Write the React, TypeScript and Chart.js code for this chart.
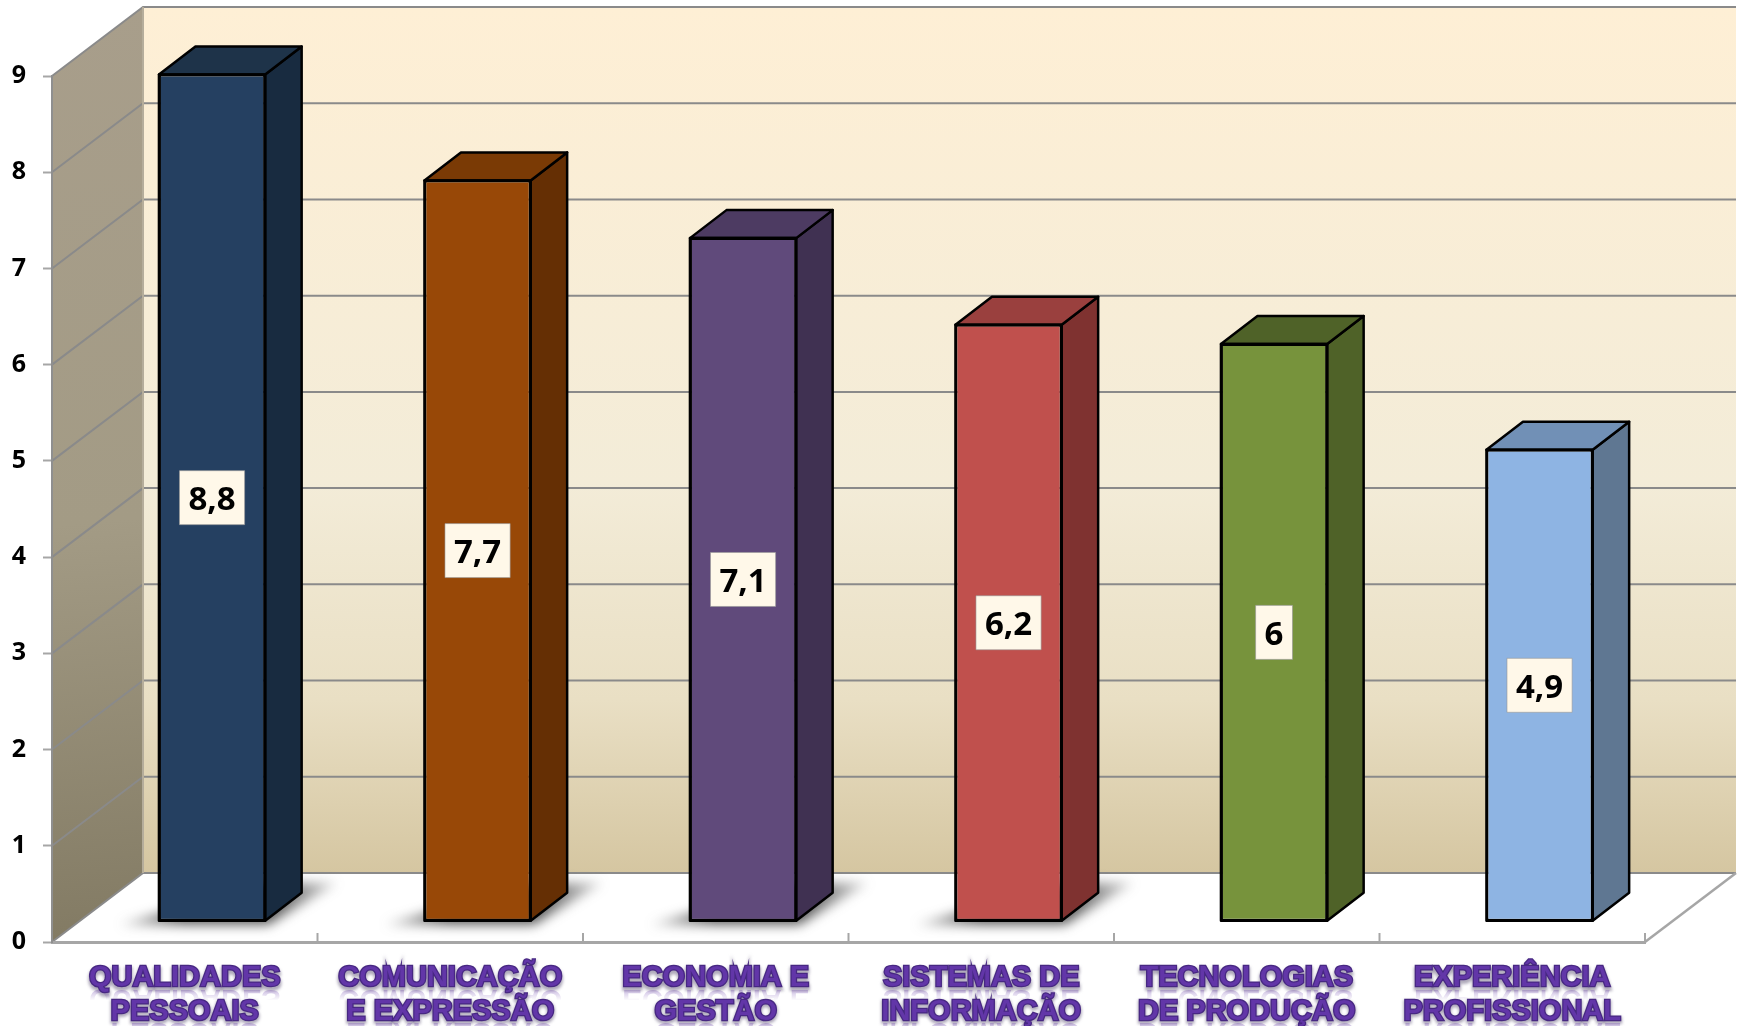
import React, { useEffect, useRef } from "react";
import { Chart, registerables } from "chart.js";

Chart.register(...registerables);

const categories = [
  ["QUALIDADES", "PESSOAIS"],
  ["COMUNICAÇÃO", "E EXPRESSÃO"],
  ["ECONOMIA E", "GESTÃO"],
  ["SISTEMAS DE", "INFORMAÇÃO"],
  ["TECNOLOGIAS", "DE PRODUÇÃO"],
  ["EXPERIÊNCIA", "PROFISSIONAL"],
];
const values = [8.8, 7.7, 7.1, 6.2, 6, 4.9];
const yTicks = [0, 1, 2, 3, 4, 5, 6, 7, 8, 9];
const frontColors = ["#254061", "#984807", "#604a7b", "#c0504d", "#77933c", "#8eb4e3"];
const topColors = ["#1e3349", "#7a3a05", "#4d3b62", "#9a403e", "#4f6228", "#7190b6"];
const sideColors = ["#182b40", "#652f04", "#403152", "#7f3230", "#4f6228", "#5f7792"];
const castsShadow = [true, true, true, true, false, false];

const WALL_DX = 91;
const WALL_DY = 69;
const BAR_DX = 27.3;
const BAR_DY = 20.7;
const DEPTH_DX = 36.5;
const DEPTH_DY = 28;
const GRID = "#8a8a8a";

const scene3d = {
  id: "scene3d",
  beforeDraw(chart: any) {
    const { ctx, chartArea: a, scales } = chart;
    const y = scales.y;
    const x = scales.x;
    const y0 = y.getPixelForValue(0);
    const y9 = y.getPixelForValue(9);
    ctx.save();
    ctx.fillStyle = "#ffffff";
    ctx.fillRect(0, 0, chart.width, chart.height);

    // back wall
    const back = ctx.createLinearGradient(0, y9 - WALL_DY, 0, y0 - WALL_DY);
    back.addColorStop(0, "#feefd5");
    back.addColorStop(0.55, "#f3ecd8");
    back.addColorStop(0.8, "#e9dfc4");
    back.addColorStop(1, "#d5c6a1");
    ctx.fillStyle = back;
    ctx.fillRect(a.left + WALL_DX, y9 - WALL_DY, a.right - a.left, y0 - y9);

    // left wall
    const side = ctx.createLinearGradient(a.left, y9 - WALL_DY, a.left + WALL_DX, y0);
    side.addColorStop(0, "#a89e8b");
    side.addColorStop(0.55, "#a39b85");
    side.addColorStop(1, "#827a63");
    ctx.fillStyle = side;
    ctx.beginPath();
    ctx.moveTo(a.left, y0);
    ctx.lineTo(a.left, y9);
    ctx.lineTo(a.left + WALL_DX, y9 - WALL_DY);
    ctx.lineTo(a.left + WALL_DX, y0 - WALL_DY);
    ctx.closePath();
    ctx.fill();

    // grid lines on walls
    ctx.strokeStyle = GRID;
    ctx.lineWidth = 2;
    for (const v of yTicks) {
      const py = y.getPixelForValue(v);
      ctx.beginPath();
      ctx.moveTo(a.left, py);
      ctx.lineTo(a.left + WALL_DX, py - WALL_DY);
      ctx.lineTo(a.right + WALL_DX, py - WALL_DY);
      ctx.stroke();
    }
    ctx.beginPath();
    ctx.moveTo(a.left + WALL_DX, y9 - WALL_DY);
    ctx.lineTo(a.left + WALL_DX, y0 - WALL_DY);
    ctx.strokeStyle = "#b5ad9b";
    ctx.stroke();

    // floor edge
    ctx.strokeStyle = "#a6a6a6";
    ctx.lineWidth = 2.5;
    ctx.beginPath();
    ctx.moveTo(a.right, y0);
    ctx.lineTo(a.right + WALL_DX, y0 - WALL_DY);
    ctx.stroke();

    // category separators on the floor
    const half = (x.getPixelForValue(1) - x.getPixelForValue(0)) / 2;
    ctx.lineWidth = 2;
    for (let i = 0; i < categories.length; i++) {
      const px = x.getPixelForValue(i) + half;
      ctx.beginPath();
      ctx.moveTo(px, y0);
      ctx.lineTo(px, y0 - 9);
      ctx.stroke();
    }

    // soft halo and reflections of the category labels
    ctx.font = "bold 29px 'Liberation Sans'";
    ctx.textAlign = "center";
    ctx.textBaseline = "alphabetic";
    categories.forEach((lines, i) => {
      lines.forEach((line, j) => {
        const base = 988.5 + 33.5 * j;
        const px = x.getPixelForValue(i);
        ctx.save();
        ctx.filter = "blur(1.5px)";
        ctx.strokeStyle = "rgba(110,100,130,0.55)";
        ctx.lineWidth = 4;
        ctx.strokeText(line, px, base);
        ctx.restore();

        ctx.save();
        ctx.beginPath();
        ctx.rect(0, base + 1, chart.width, 11);
        ctx.clip();
        ctx.translate(px, base + 1);
        ctx.scale(1, -1);
        const fade = ctx.createLinearGradient(0, 0, 0, -11);
        fade.addColorStop(0, "rgba(95,50,165,0.32)");
        fade.addColorStop(1, "rgba(95,50,165,0)");
        ctx.fillStyle = fade;
        ctx.fillText(line, 0, 0);
        ctx.restore();
      });
    });
    ctx.restore();
  },
  beforeDatasetsDraw(chart: any) {
    const { ctx } = chart;
    const meta = chart.getDatasetMeta(0);
    ctx.save();
    ctx.filter = "blur(6px)";
    meta.data.forEach((bar: any, i: number) => {
      if (!castsShadow[i]) return;
      const p = bar.getProps(["x", "y", "base", "width"], true);
      const r = p.x + p.width / 2 + BAR_DX;
      const l = p.x - p.width / 2 + BAR_DX;
      const b = p.base - BAR_DY;
      const g = ctx.createLinearGradient(l - 40, 0, r + 72, 0);
      g.addColorStop(0, "rgba(70,70,70,0.25)");
      g.addColorStop(0.3, "rgba(60,60,60,0.85)");
      g.addColorStop(0.7, "rgba(60,60,60,0.85)");
      g.addColorStop(1, "rgba(70,70,70,0.2)");
      ctx.fillStyle = g;
      ctx.beginPath();
      ctx.moveTo(l - 40, b + 4);
      ctx.lineTo(r + 3, b + 4);
      ctx.lineTo(r + 72, b - 38);
      ctx.lineTo(r, b - 38);
      ctx.closePath();
      ctx.fill();
    });
    ctx.restore();
  },
  beforeDatasetDraw(chart: any) {
    chart.ctx.save();
    chart.ctx.translate(BAR_DX, -BAR_DY);
  },
  afterDatasetDraw(chart: any) {
    chart.ctx.restore();
  },
  afterDatasetsDraw(chart: any) {
    const { ctx } = chart;
    const meta = chart.getDatasetMeta(0);
    ctx.save();
    ctx.lineJoin = "round";
    ctx.lineWidth = 2.5;
    ctx.strokeStyle = "#000000";
    meta.data.forEach((bar: any, i: number) => {
      const p = bar.getProps(["x", "y", "base", "width"], true);
      const l = p.x - p.width / 2 + BAR_DX;
      const r = p.x + p.width / 2 + BAR_DX;
      const t = p.y - BAR_DY;
      const b = p.base - BAR_DY;
      ctx.fillStyle = sideColors[i];
      ctx.beginPath();
      ctx.moveTo(r, t);
      ctx.lineTo(r + DEPTH_DX, t - DEPTH_DY);
      ctx.lineTo(r + DEPTH_DX, b - DEPTH_DY);
      ctx.lineTo(r, b);
      ctx.closePath();
      ctx.fill();
      ctx.stroke();
      ctx.fillStyle = topColors[i];
      ctx.beginPath();
      ctx.moveTo(l, t);
      ctx.lineTo(l + DEPTH_DX, t - DEPTH_DY);
      ctx.lineTo(r + DEPTH_DX, t - DEPTH_DY);
      ctx.lineTo(r, t);
      ctx.closePath();
      ctx.fill();
      ctx.stroke();
      ctx.strokeRect(l, t, r - l, b - t);

      // value badge
      const text = String(values[i]).replace(".", ",");
      ctx.font = "bold 33px 'Open Sans'";
      const w = ctx.measureText(text).width + 18;
      const h = 54;
      const cx = p.x + BAR_DX;
      const cy = (t + b) / 2;
      ctx.save();
      ctx.fillStyle = "#fff8e9";
      ctx.fillRect(cx - w / 2, cy - h / 2, w, h);
      ctx.strokeStyle = "rgba(150,150,150,0.6)";
      ctx.lineWidth = 1;
      ctx.strokeRect(cx - w / 2, cy - h / 2, w, h);
      ctx.fillStyle = "#000000";
      ctx.textAlign = "center";
      ctx.textBaseline = "middle";
      ctx.fillText(text, cx, cy + 3);
      ctx.restore();
    });
    ctx.restore();
  },
};

export default function App() {
  const ref = useRef<HTMLCanvasElement>(null);
  useEffect(() => {
    const chart = new Chart(ref.current as HTMLCanvasElement, {
      type: "bar",
      data: {
        labels: categories as any,
        datasets: [
          {
            data: values,
            backgroundColor: frontColors,
            borderColor: "#000000",
            borderWidth: 2,
            borderSkipped: false,
            barPercentage: 0.4,
            categoryPercentage: 1,
            clip: false as any,
          },
        ],
      },
      options: {
        responsive: false,
        animation: false,
        devicePixelRatio: 1,
        layout: { padding: { top: 76, right: 99, left: 0, bottom: 0 } },
        plugins: { legend: { display: false }, title: { display: false }, tooltip: { enabled: false } },
        scales: {
          x: {
            offset: true,
            afterFit: (s: any) => {
              s.height = 84;
            },
            grid: { display: false, drawTicks: false },
            border: { display: true, color: "#a6a6a6", width: 3 },
            ticks: {
              autoSkip: false,
              maxRotation: 0,
              minRotation: 0,
              padding: 19.5,
              color: "#6236a8",
              textStrokeColor: "#472882",
              textStrokeWidth: 2.5,
              font: { family: "'Liberation Sans'", size: 29, weight: "bold", lineHeight: "33.5px" },
            },
          },
          y: {
            min: 0,
            max: 9,
            afterFit: (s: any) => {
              s.width = 52;
            },
            grid: { drawOnChartArea: false, drawTicks: true, tickLength: 9, tickColor: "#a6a6a6", tickWidth: 2 },
            border: { display: true, color: "#8f8f8f", width: 2 },
            ticks: {
              stepSize: 1,
              padding: 17,
              color: "#000000",
              font: { family: "'Open Sans'", size: 25, weight: "bold" },
            },
          },
        },
      } as any,
      plugins: [scene3d],
    });
    return () => chart.destroy();
  }, []);
  return (
    <canvas
      ref={ref}
      width={1744}
      height={1026}
      style={{ position: "absolute", left: 0, top: 0, display: "block" }}
    />
  );
}
